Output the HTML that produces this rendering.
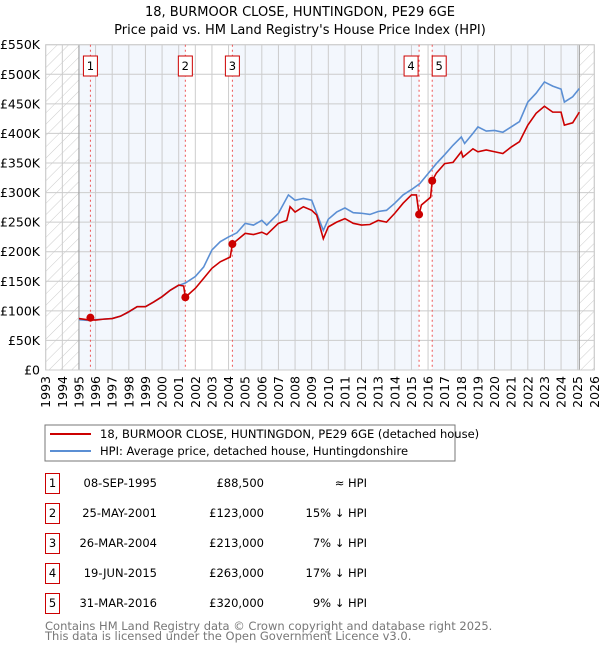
<!DOCTYPE html>
<html><head><meta charset="utf-8"><style>
body{margin:0;background:#fff;font-family:"DejaVu Sans","Liberation Sans",sans-serif;}
svg text{font-family:"DejaVu Sans","Liberation Sans",sans-serif;}
</style></head><body>
<svg id="chart" width="600" height="650" xmlns="http://www.w3.org/2000/svg">
<defs><pattern id="hatch" width="8" height="8" patternUnits="userSpaceOnUse" patternTransform="rotate(45)"><line x1="0" y1="0" x2="0" y2="8" stroke="#ccc" stroke-width="1"/></pattern></defs>
<text x="300" y="16" text-anchor="middle" font-size="13">18, BURMOOR CLOSE, HUNTINGDON, PE29 6GE</text>
<text x="300" y="34" text-anchor="middle" font-size="13">Price paid vs. HM Land Registry's House Price Index (HPI)</text>
<g id="plot"></g>
<g>
<rect x="45" y="425" width="410" height="36" fill="#fff" stroke="#777"/>
<line x1="50" y1="434" x2="91" y2="434" stroke="#cc0000" stroke-width="2"/>
<text x="100" y="438" font-size="11.5">18, BURMOOR CLOSE, HUNTINGDON, PE29 6GE (detached house)</text>
<line x1="50" y1="451" x2="91" y2="451" stroke="#5b8fd4" stroke-width="2"/>
<text x="100" y="455" font-size="11.5">HPI: Average price, detached house, Huntingdonshire</text>
</g>
<g id="table"></g>
<text x="45" y="630" font-size="11.5" fill="#777">Contains HM Land Registry data © Crown copyright and database right 2025.</text>
<text x="45" y="640" font-size="11.5" fill="#777">This data is licensed under the Open Government Licence v3.0.</text>
</svg>
<script>
const hpiYears=[1995,1995.5,1996,1996.5,1997,1997.5,1998,1998.5,1999,1999.5,2000,2000.5,2001,2001.4,2002,2002.5,2003,2003.5,2004,2004.5,2005,2005.5,2006,2006.3,2007,2007.6,2008,2008.5,2009,2009.3,2009.7,2010,2010.5,2011,2011.5,2012,2012.5,2013,2013.5,2014,2014.5,2015,2015.5,2016,2016.5,2017,2017.5,2018,2018.2,2018.7,2019,2019.5,2020,2020.5,2021,2021.5,2022,2022.5,2023,2023.5,2024,2024.2,2024.7,2025.1];
const hpiValues=[85,84,85,86,87,91,98,107,107,115,124,135,143,147,158,174,203,217,225,232,248,245,253,245,265,296,287,290,287,265,236,255,267,274,266,265,263,268,270,282,296,305,315,332,349,364,380,394,383,400,411,404,405,402,411,420,453,468,487,480,475,453,462,476];
const ppYears=[1995,1995.5,1996,1996.5,1997,1997.5,1998,1998.5,1999,1999.5,2000,2000.5,2001,2001.3,2001.4,2002,2002.5,2003,2003.5,2004.1,2004.23,2005,2005.5,2006,2006.3,2007,2007.5,2007.7,2008,2008.5,2009,2009.3,2009.7,2010,2010.5,2011,2011.5,2012,2012.5,2013,2013.5,2014,2014.5,2015,2015.3,2015.46,2015.6,2016.15,2016.25,2016.5,2017,2017.5,2018,2018.1,2018.7,2019,2019.5,2020,2020.5,2021,2021.5,2022,2022.5,2023,2023.5,2024,2024.2,2024.7,2025.1];
const ppValues=[87,85,84.5,86,87,91,98.5,107,107,115,124,135,143.5,142,123,138,155,172,183,191,213,231,229,233,229,248,253,276,267,276,270,262,222,242,250,256,248,245,246,253,250,265,282,296,296,263,279,292,320,333,349,351,369,360,374,369,372,369,366,377,386,414,434,446,436,436,414,418,436];
const saleLabels=["1","2","3","4","5"];
const saleYears=[1995.69,2001.4,2004.23,2015.46,2016.25];
const saleValues=[88.5,123,213,263,320];
const saleDates=["08-SEP-1995","25-MAY-2001","26-MAR-2004","19-JUN-2015","31-MAR-2016"];
const salePrices=["£88,500","£123,000","£213,000","£263,000","£320,000"];
const saleHpi=["≈ HPI","15% ↓ HPI","7% ↓ HPI","17% ↓ HPI","9% ↓ HPI"];
const yTicks=[0,50,100,150,200,250,300,350,400,450,500,550];
const yTickLabels=["£0","£50K","£100K","£150K","£200K","£250K","£300K","£350K","£400K","£450K","£500K","£550K"];
const xTicks=[1993,1994,1995,1996,1997,1998,1999,2000,2001,2002,2003,2004,2005,2006,2007,2008,2009,2010,2011,2012,2013,2014,2015,2016,2017,2018,2019,2020,2021,2022,2023,2024,2025,2026];
const X0=45.7,X1=594.3,Y0=370,Y1=44.7;
const xs=y=>X0+(y-1993)/(2026-1993)*(X1-X0);
const ys=v=>Y0-v/550*(Y0-Y1);
const NS="http://www.w3.org/2000/svg";
const plot=document.getElementById('plot');
function mk(tag,attrs,parent){const e=document.createElementNS(NS,tag);for(const k in attrs)e.setAttribute(k,attrs[k]);(parent||plot).appendChild(e);return e;}
// backgrounds
let bg=mk('rect',{x:xs(1995),y:Y1,width:xs(2025.1)-xs(1995),height:Y0-Y1,fill:'#eef3fc',opacity:0.7});


[[1,2],[3,4]].forEach(p=>{let w=mk('rect',{x:xs(saleYears[p[0]]),y:Y1,width:xs(saleYears[p[1]])-xs(saleYears[p[0]]),height:Y0-Y1,fill:'#fff'});

});
let h1=mk('rect',{x:X0,y:Y1,width:xs(1995)-X0,height:Y0-Y1,fill:'url(#hatch)'});


let h2=mk('rect',{x:xs(2025.1),y:Y1,width:X1-xs(2025.1),height:Y0-Y1,fill:'url(#hatch)'});


// grid
yTicks.forEach((t,i)=>{let l=mk('line',{x1:X0,x2:X1,y1:ys(t),y2:ys(t),stroke:'#ccc','stroke-width':1});


let tx=mk('text',{x:40,y:ys(t)+4.5,'text-anchor':'end','font-size':12.5});tx.textContent=yTickLabels[i];

});
xTicks.forEach(t=>{let l=mk('line',{x1:xs(t),x2:xs(t),y1:Y1,y2:Y0,stroke:'#ccc','stroke-width':1});


let tx=mk('text',{x:0,y:0,'text-anchor':'end','font-size':12.5,transform:`translate(${xs(t)+4.5},376) rotate(-90)`});tx.textContent=t;

});
[1995,2025.1].forEach(t=>{let l=mk('line',{x1:xs(t),x2:xs(t),y1:Y1,y2:Y0,stroke:'#999','stroke-width':1});

});
let fr=mk('rect',{x:X0,y:Y1,width:X1-X0,height:Y0-Y1,fill:'none',stroke:'#ccc'});


// sale vlines
saleYears.forEach((s,i)=>{let l=mk('line',{x1:xs(s),x2:xs(s),y1:Y1,y2:Y0,stroke:'#e55','stroke-width':1,'stroke-dasharray':'2,3'});

});
// series
let hp=mk('polyline',{points:hpiYears.map((y,i)=>xs(y)+','+ys(hpiValues[i])).join(' '),fill:'none',stroke:'#5b8fd4','stroke-width':1.6});


let pp=mk('polyline',{points:ppYears.map((y,i)=>xs(y)+','+ys(ppValues[i])).join(' '),fill:'none',stroke:'#cc0000','stroke-width':1.6});


saleYears.forEach((s,i)=>{let c=mk('circle',{cx:xs(s),cy:ys(saleValues[i]),r:4,fill:'#cc0000'});

});
// label boxes
const boxOff=[0,0,0,-8,7];
saleYears.forEach((s,i)=>{const cx=xs(s)+boxOff[i];let g=mk('g',{});


mk('rect',{x:cx-7,y:56,width:14,height:20,fill:'#fff',stroke:'#cc0000'},g);
let t=mk('text',{x:cx,y:70,'text-anchor':'middle','font-size':11.5},g);t.textContent=saleLabels[i];});
// table
const tb=document.getElementById('table');
saleLabels.forEach((l,i)=>{const cy=483+i*30;
let g=mk('g',{},tb);


mk('rect',{x:45.5,y:cy-9.5,width:14,height:20,fill:'#fff',stroke:'#cc0000'},g);
let a=mk('text',{x:52.5,y:cy+4,'text-anchor':'middle','font-size':11.5},g);a.textContent=l;
let b=mk('text',{x:157,y:cy+4,'text-anchor':'end','font-size':11.5},g);b.textContent=saleDates[i];
let c=mk('text',{x:264,y:cy+4,'text-anchor':'end','font-size':11.5},g);c.textContent=salePrices[i];
let d=mk('text',{x:367,y:cy+4,'text-anchor':'end','font-size':11.5},g);d.textContent=saleHpi[i];});
</script>
</body></html>
